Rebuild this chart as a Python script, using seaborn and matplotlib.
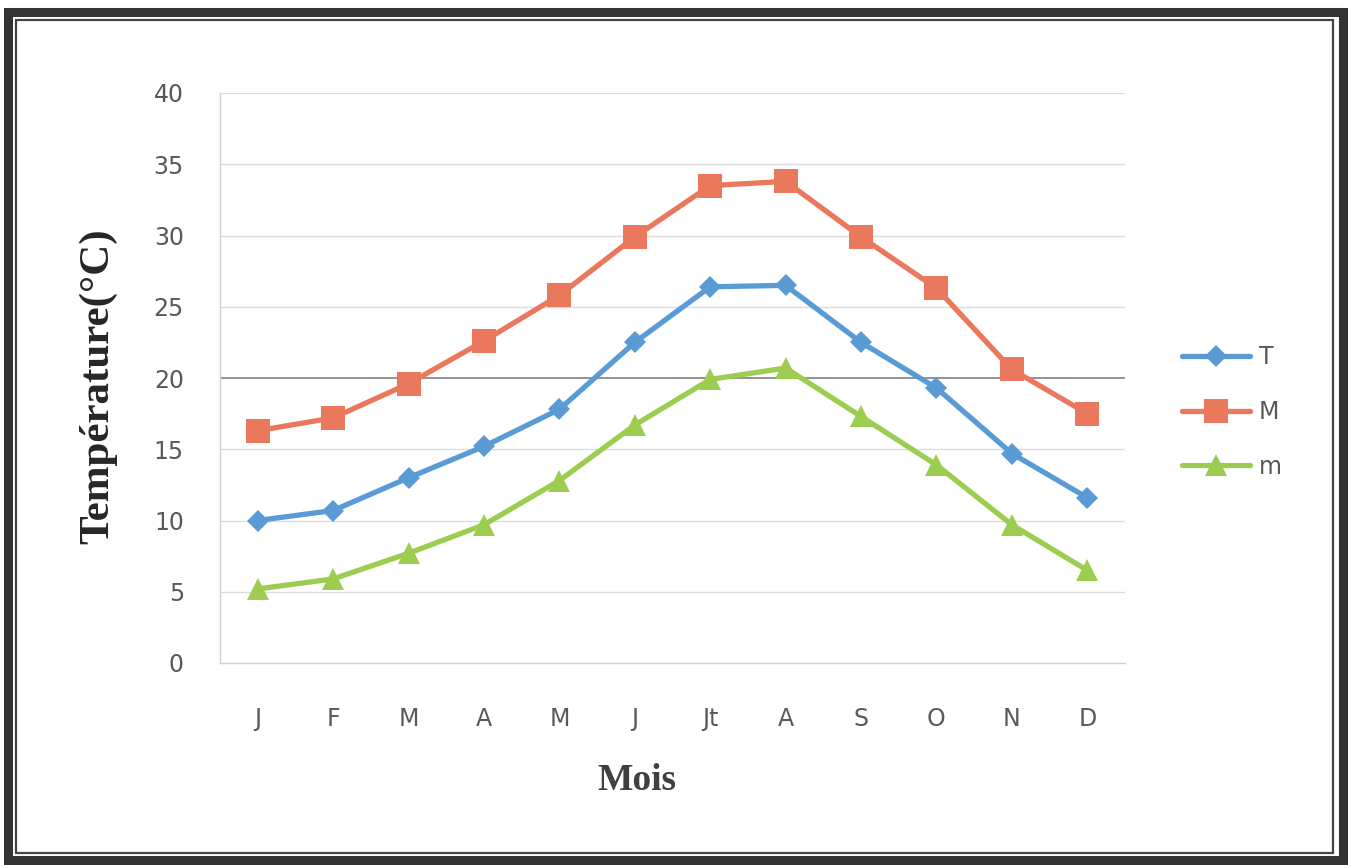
import matplotlib
matplotlib.use("Agg")
import matplotlib.pyplot as plt
from matplotlib.patches import Rectangle
import seaborn as sns
import pandas as pd

# Monthly temperatures (°C): mean T, mean maximum M, mean minimum m
months = ["J", "F", "M", "A", "M", "J", "Jt", "A", "S", "O", "N", "D"]
temp_mean = [10.0, 10.7, 13.0, 15.2, 17.8, 22.5, 26.4, 26.5, 22.5, 19.3, 14.7, 11.6]
temp_max = [16.3, 17.2, 19.6, 22.6, 25.8, 29.9, 33.5, 33.8, 29.9, 26.3, 20.6, 17.5]
temp_min = [5.2, 5.9, 7.7, 9.7, 12.8, 16.7, 19.9, 20.7, 17.3, 13.9, 9.7, 6.5]
y_ticks = [0, 5, 10, 15, 20, 25, 30, 35, 40]

series = [
    ("T", temp_mean, "#5b9bd5", "D", 11),
    ("M", temp_max, "#e9785c", "s", 17),
    ("m", temp_min, "#9dcd50", "^", 16),
]

W, H = 1351, 865
sns.set_theme(style="white")
plt.rcParams["font.family"] = ["DejaVu Sans"]

fig = plt.figure(figsize=(W / 100, H / 100), dpi=100)
fig.patch.set_facecolor("white")

left, right, top, bottom = 220, 1125, 93, 663
ax = fig.add_axes([left / W, 1 - bottom / H, (right - left) / W, (bottom - top) / H])

pos = list(range(len(months)))
for name, values, color, marker, msize in series:
    df = pd.DataFrame({"pos": pos, "val": values})
    sns.lineplot(data=df, x="pos", y="val", ax=ax, color=color, linewidth=3.8,
                 marker=marker, markersize=msize, markeredgewidth=0,
                 label=name, zorder=3)

ax.set_xlim(-0.5, len(months) - 0.5)
ax.set_ylim(0, 40)
ax.set_yticks(y_ticks)
ax.set_xticks(pos)
ax.set_xticklabels(months)

# horizontal gridlines, the 20 °C line drawn darker
for t in y_ticks[1:]:
    c, lw = ("#8a8a8a", 1.3) if t == 20 else ("#dcdcdc", 1.0)
    ax.axhline(t, color=c, linewidth=lw, zorder=1)

for side in ["top", "right"]:
    ax.spines[side].set_visible(False)
ax.spines["left"].set_color("#cfcfcf")
ax.spines["bottom"].set_color("#cfcfcf")
ax.spines["left"].set_linewidth(1.0)
ax.spines["bottom"].set_linewidth(1.0)

ax.tick_params(axis="y", length=0, pad=26, labelsize=17, labelcolor="#595959")
ax.tick_params(axis="x", length=0, pad=32, labelsize=17, labelcolor="#595959")

ax.set_ylabel("Température(°C)", family="Liberation Serif", fontweight="bold",
              fontsize=31, color="#262626")
ax.yaxis.set_label_coords(-0.113, 0.486)
ax.set_xlabel("Mois", family="Liberation Serif", fontweight="bold",
              fontsize=27, color="#404040")
ax.xaxis.set_label_coords(0.461, -0.175)

leg = ax.legend(loc="center left", bbox_to_anchor=(1182 / W, 1 - 412 / H),
                bbox_transform=fig.transFigure, frameon=False, fontsize=17,
                handlelength=2.9, handletextpad=0.35, labelspacing=1.3,
                borderpad=0, borderaxespad=0)
for txt in leg.get_texts():
    txt.set_color("#595959")

# double frame around the figure
fig.patches.append(Rectangle((7.5 / W, 1 - 860 / H), (1342.5 - 7.5) / W, (860 - 12) / H,
                             transform=fig.transFigure, fill=False,
                             edgecolor="#333333", linewidth=6.5, zorder=10))
fig.patches.append(Rectangle((15.5 / W, 1 - 853 / H), (1333 - 15.5) / W, (853 - 19.5) / H,
                             transform=fig.transFigure, fill=False,
                             edgecolor="#444444", linewidth=1.6, zorder=10))

fig.savefig("out.png", dpi=100, facecolor="white")
